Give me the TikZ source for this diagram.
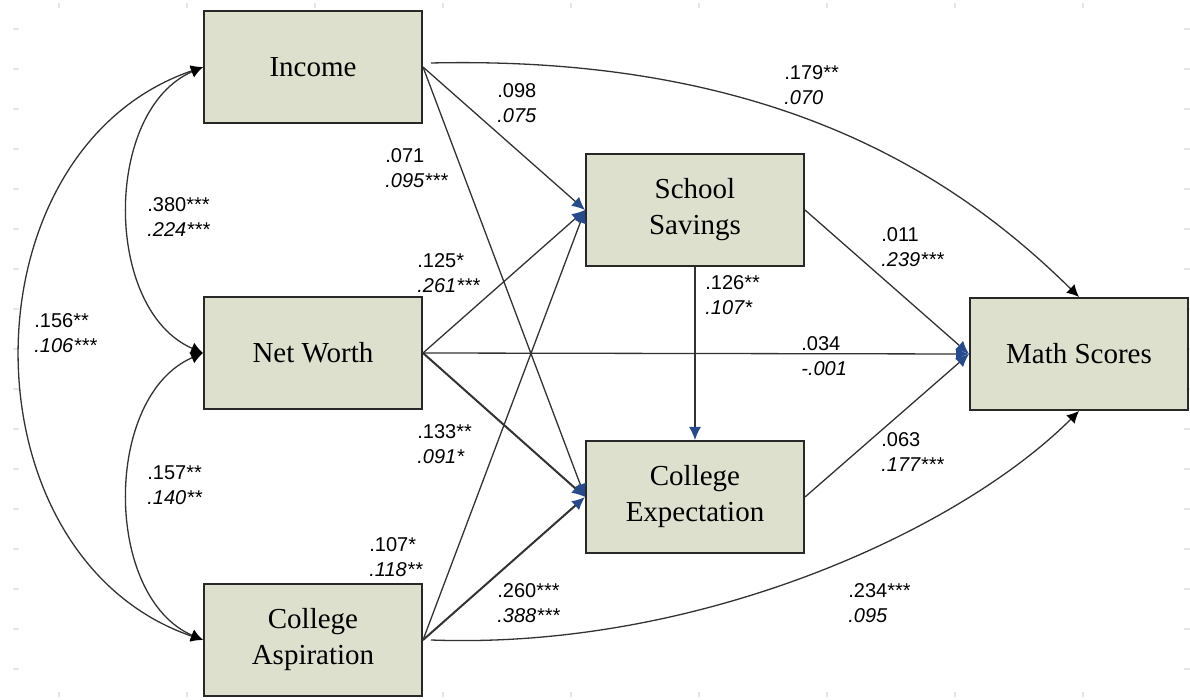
\documentclass[tikz,border=0pt]{standalone}
\usepackage{fontspec}
\setmainfont{Liberation Serif}
\newfontfamily\coeffont{Liberation Sans}
\usetikzlibrary{arrows.meta}
\definecolor{boxfill}{RGB}{220,224,204}
\definecolor{boxline}{RGB}{40,40,40}
\definecolor{linegray}{RGB}{50,50,50}
\definecolor{tipblue}{RGB}{38,74,140}
\newcommand{\coefs}[2]{#1\\\textit{#2}}

\begin{document}
\begin{tikzpicture}[x=0.5pt, y=-0.5pt,
  var/.style = {shape=rectangle, draw=boxline, fill=boxfill, line width=1pt,
    minimum width=109pt, minimum height=56pt, align=center,
    font=\fontsize{14.5}{18}\selectfont},
  coef/.style = {anchor=north west, inner sep=0pt, align=left,
    font=\coeffont\fontsize{10}{12.5}\selectfont},
  eff/.style = {draw=linegray, line width=0.65pt,
    -{Latex[length=6.5pt,width=6pt,color=tipblue]}},
  direct/.style = {draw=linegray, line width=0.65pt,
    -{Latex[length=6pt,width=6pt,color=black]}},
  cov/.style = {draw=linegray, line width=0.65pt,
    {Latex[length=6pt,width=6pt,color=black]}-{Latex[length=6pt,width=6pt,color=black]}},
  tick/.style = {draw=gray!20, line width=0.6pt},
 ]
 \useasboundingbox (0,0) rectangle (1190,700);
 % faint grid marks
 \foreach \tx in {59,187,...,1083} {
   \draw[tick] (\tx,3) -- (\tx,8);
   \draw[tick] (\tx,692) -- (\tx,697);
 }
 \foreach \ty in {29,69,...,669} {
   \draw[tick] (13,\ty) -- (19,\ty);
   \draw[tick] (1184,\ty) -- (1190,\ty);
 }

 % variables
 \node[var] (inc) at (313,67) {Income};
 \node[var] (nw) at (313,353) {Net Worth};
 \node[var] (asp) at (313,640) {College\\Aspiration};
 \node[var] (sav) at (695,210) {School\\Savings};
 \node[var] (exp) at (695,497) {College\\Expectation};
 \node[var] (math) at (1079,354) {Math Scores};

 % covariances
 \draw[cov] (inc.west) .. controls (103,110) and (103,310) .. (nw.west);
 \draw[cov] (nw.west) .. controls (103,396) and (103,597) .. (asp.west);
 \draw[cov] (inc.west) .. controls (-40,150) and (-40,557) .. (asp.west);

 % paths
 \draw[eff] (inc.east) -- (sav.west);
 \draw[eff] (inc.east) -- (exp.west);
 \draw[eff] (nw.east) -- (sav.west);
 \draw[eff, line width=1pt] (nw.east) -- (exp.west);
 \draw[eff] (nw.east) -- (math.west);
 \draw[eff] (asp.east) -- (sav.west);
 \draw[eff, line width=1pt] (asp.east) -- (exp.west);
 \draw[eff] (sav.south) -- (exp.north);
 \draw[eff] (sav.east) -- (math.west);
 \draw[eff] (exp.east) -- (math.west);
 \draw[direct] ([shift={(8,-4)}]inc.east) .. controls (780,55) and (960,180) .. (math.north);
 \draw[direct] ([shift={(8,0)}]asp.east) .. controls (700,650) and (960,530) .. (math.south);

 % coefficients
 \node[coef] (c-is) at (497,83) {\coefs{.098}{.075}};
 \node[coef] (c-ie) at (385,148) {\coefs{.071}{.095***}};
 \node[coef] (c-im) at (784,65) {\coefs{.179**}{.070}};
 \node[coef] (c-in) at (147,197) {\coefs{.380***}{.224***}};
 \node[coef] (c-ns) at (417,253) {\coefs{.125*}{.261***}};
 \node[coef] (c-ia) at (34,313) {\coefs{.156**}{.106***}};
 \node[coef] (c-se) at (705,275) {\coefs{.126**}{.107*}};
 \node[coef] (c-sm) at (881,227) {\coefs{.011}{.239***}};
 \node[coef] (c-nm) at (801,336) {\coefs{.034}{-.001}};
 \node[coef] (c-ne) at (417,424) {\coefs{.133**}{.091*}};
 \node[coef] (c-na) at (147,465) {\coefs{.157**}{.140**}};
 \node[coef] (c-em) at (881,432) {\coefs{.063}{.177***}};
 \node[coef] (c-as) at (369,537) {\coefs{.107*}{.118**}};
 \node[coef] (c-ae) at (497,583) {\coefs{.260***}{.388***}};
 \node[coef] (c-am) at (848,583) {\coefs{.234***}{.095}};
\end{tikzpicture}
\end{document}
